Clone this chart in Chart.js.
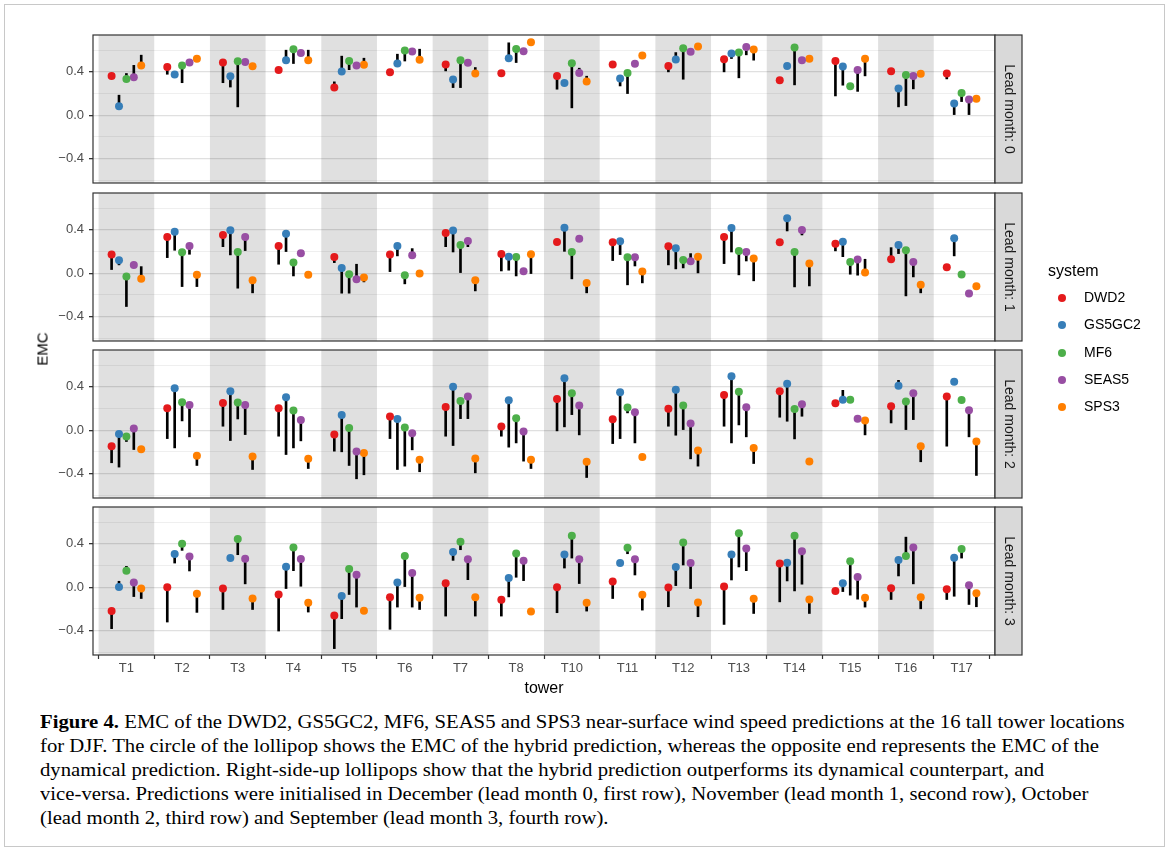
<!DOCTYPE html>
<html>
<head>
<meta charset="utf-8">
<script src="https://cdn.jsdelivr.net/npm/chart.js@4.4.1/dist/chart.umd.min.js"></script>
<style>
  body { margin: 0; background: #fff; }
  #fig { position: relative; width: 1171px; height: 852px; overflow: hidden; font-family: 'Liberation Sans', Arial, sans-serif; }
  #frame { position: absolute; left: 4px; top: 4px; width: 1161px; height: 843px; border: 1px solid #c8c8c8; box-sizing: border-box; }
  #fig canvas { position: absolute; left: 0; }
  #ytitle { position: absolute; left: 42px; top: 349px; transform: translate(-50%, -50%) rotate(-90deg); font-size: 15px; color: #000; }
  #legend { position: absolute; left: 1048px; top: 262px; }
  #legend .title { font-size: 16px; color: #000; margin-bottom: 8px; }
  #legend .item { position: relative; height: 27.3px; font-size: 14px; color: #000; }
  #legend .dot { position: absolute; left: 10px; top: 6px; width: 8px; height: 8px; border-radius: 50%; }
  #legend .lab { position: absolute; left: 36px; top: 1px; }
  #caption { position: absolute; left: 40px; top: 710px; font-family: 'Liberation Serif', 'DejaVu Serif', serif; font-size: 18.5px; line-height: 24px; color: #000; white-space: nowrap; transform: scaleX(1.12); transform-origin: 0 0; }
</style>
</head>
<body>
<div id="fig">
  <div id="frame"></div>
  <canvas id="lead0" width="1171" height="160" style="top:30px"></canvas>
  <canvas id="lead1" width="1171" height="160" style="top:188px"></canvas>
  <canvas id="lead2" width="1171" height="160" style="top:345px"></canvas>
  <canvas id="lead3" width="1171" height="200" style="top:502px"></canvas>
  <div id="ytitle">EMC</div>
  <div id="legend"></div>
  <div id="caption">
    <b>Figure 4.</b> EMC of the DWD2, GS5GC2, MF6, SEAS5 and SPS3 near-surface wind speed predictions at the 16 tall tower locations<br>
    for DJF. The circle of the lollipop shows the EMC of the hybrid prediction, whereas the opposite end represents the EMC of the<br>
    dynamical prediction. Right-side-up lollipops show that the hybrid prediction outperforms its dynamical counterpart, and<br>
    vice-versa. Predictions were initialised in December (lead month 0, first row), November (lead month 1, second row), October<br>
    (lead month 2, third row) and September (lead month 3, fourth row).
  </div>
</div>
<script>
// towers and systems
const towers = ['T1', 'T2', 'T3', 'T4', 'T5', 'T6', 'T7', 'T8', 'T10', 'T11', 'T12', 'T13', 'T14', 'T15', 'T16', 'T17'];
const systems = ['DWD2', 'GS5GC2', 'MF6', 'SEAS5', 'SPS3'];
const colors = ['#E41A1C', '#377EB8', '#4DAF4A', '#984EA3', '#FF7F00'];

const yBreaks = [-0.6, -0.4, -0.2, 0, 0.2, 0.4, 0.6];
const yMajor = [-0.4, 0, 0.4];
const yLabels = ['\u22120.4', '0.0', '0.4'];

// rows = systems (same order as above), columns = towers
// hybrid = circle end, dynamical = other end of the stick
const hybrid0 = [
  [0.363, 0.446, 0.486, 0.418, 0.255, 0.397, 0.468, 0.388, 0.363, 0.468, 0.455, 0.517, 0.323, 0.50, 0.406, 0.385],
  [0.083, 0.375, 0.36, 0.508, 0.403, 0.477, 0.329, 0.526, 0.298, 0.338, 0.514, 0.569, 0.455, 0.449, 0.246, 0.108],
  [0.335, 0.458, 0.498, 0.609, 0.50, 0.597, 0.508, 0.612, 0.48, 0.39, 0.618, 0.578, 0.625, 0.268, 0.372, 0.206],
  [0.35, 0.486, 0.492, 0.575, 0.458, 0.588, 0.483, 0.591, 0.39, 0.474, 0.585, 0.63, 0.508, 0.418, 0.363, 0.145],
  [0.458, 0.52, 0.452, 0.508, 0.465, 0.511, 0.385, 0.674, 0.31, 0.55, 0.634, 0.606, 0.52, 0.52, 0.382, 0.151]
];
const dynamical0 = [
  [0.36, 0.378, 0.30, 0.415, 0.308, 0.395, 0.409, 0.385, 0.24, 0.465, 0.40, 0.40, 0.32, 0.178, 0.40, 0.335],
  [0.185, 0.37, 0.26, 0.60, 0.545, 0.563, 0.255, 0.668, 0.295, 0.27, 0.578, 0.523, 0.45, 0.277, 0.077, 0.006],
  [0.385, 0.30, 0.077, 0.477, 0.42, 0.50, 0.255, 0.486, 0.068, 0.2, 0.332, 0.345, 0.28, 0.265, 0.089, 0.126],
  [0.46, 0.49, 0.49, 0.57, 0.455, 0.585, 0.48, 0.59, 0.434, 0.47, 0.58, 0.557, 0.505, 0.22, 0.243, 0.006],
  [0.554, 0.515, 0.45, 0.60, 0.526, 0.609, 0.44, 0.67, 0.36, 0.545, 0.63, 0.508, 0.515, 0.363, 0.38, 0.148]
];

const hybrid1 = [
  [0.172, 0.334, 0.353, 0.252, 0.15, 0.172, 0.371, 0.178, 0.288, 0.285, 0.248, 0.334, 0.285, 0.273, 0.129, 0.055],
  [0.12, 0.383, 0.396, 0.365, 0.049, 0.252, 0.393, 0.153, 0.42, 0.294, 0.23, 0.417, 0.506, 0.291, 0.261, 0.322],
  [-0.031, 0.193, 0.196, 0.098, -0.009, -0.018, 0.261, 0.15, 0.196, 0.147, 0.123, 0.206, 0.196, 0.104, 0.212, -0.012],
  [0.077, 0.252, 0.334, 0.184, -0.055, 0.166, 0.298, 0.018, 0.319, 0.147, 0.11, 0.196, 0.399, 0.126, 0.104, -0.187],
  [-0.052, -0.015, -0.064, -0.015, -0.04, -0.003, -0.064, 0.175, -0.089, 0.015, 0.153, 0.135, 0.089, 0.006, -0.107, -0.12]
];
const dynamical1 = [
  [0.034, 0.144, 0.245, 0.083, 0.098, 0.015, 0.245, 0.021, 0.285, 0.117, 0.077, 0.089, 0.282, 0.206, 0.236, 0.052],
  [0.077, 0.212, 0.169, 0.2, -0.184, 0.16, 0.196, 0.028, 0.202, 0.172, 0.04, 0.196, 0.39, 0.153, 0.181, 0.16],
  [-0.307, -0.123, -0.138, -0.025, -0.184, -0.098, 0.006, -0.025, -0.052, -0.107, 0.049, -0.015, -0.126, -0.009, -0.209, -0.015],
  [0.075, 0.175, 0.209, 0.18, 0.083, 0.227, 0.245, 0.015, 0.315, 0.067, 0.181, 0.113, 0.353, -0.018, -0.034, -0.19],
  [0.061, -0.123, -0.181, -0.018, -0.08, -0.005, -0.163, -0.003, -0.181, -0.089, 0.003, -0.07, -0.117, 0.129, -0.181, -0.123]
];

const hybrid2 = [
  [-0.147, 0.202, 0.252, 0.202, -0.04, 0.126, 0.215, 0.034, 0.288, 0.101, 0.199, 0.325, 0.359, 0.248, 0.221, 0.31],
  [-0.034, 0.387, 0.359, 0.304, 0.141, 0.104, 0.402, 0.276, 0.479, 0.35, 0.374, 0.497, 0.429, 0.282, 0.411, 0.448],
  [-0.058, 0.258, 0.255, 0.181, 0.021, 0.025, 0.27, 0.11, 0.34, 0.209, 0.227, 0.356, 0.196, 0.282, 0.264, 0.279],
  [0.015, 0.233, 0.233, 0.095, -0.196, -0.028, 0.31, -0.012, 0.227, 0.166, 0.061, 0.212, 0.239, 0.107, 0.34, 0.184],
  [-0.175, -0.236, -0.242, -0.264, -0.209, -0.273, -0.261, -0.273, -0.291, -0.248, -0.187, -0.163, -0.288, 0.089, -0.147, -0.104]
];
const dynamical2 = [
  [-0.30, -0.077, 0.037, -0.055, -0.193, -0.077, -0.055, -0.055, -0.006, -0.123, 0.037, 0.037, 0.12, 0.245, 0.067, -0.147],
  [-0.34, -0.163, -0.095, -0.224, -0.199, -0.362, -0.141, -0.156, 0.031, -0.077, -0.046, -0.117, 0.083, 0.368, 0.46, 0.445],
  [-0.104, 0.086, 0.104, -0.163, -0.325, -0.331, 0.107, -0.117, 0.144, 0.16, 0.0, 0.049, -0.08, 0.279, 0.0, 0.276],
  [-0.178, -0.061, -0.04, -0.098, -0.448, -0.181, 0.107, -0.285, -0.043, -0.117, -0.264, -0.061, 0.129, 0.104, 0.098, -0.061],
  [-0.178, -0.325, -0.362, -0.353, -0.411, -0.383, -0.393, -0.353, -0.436, -0.251, -0.331, -0.307, -0.291, -0.043, -0.291, -0.417]
];

const hybrid3 = [
  [-0.22, 0.0, -0.012, -0.067, -0.26, -0.092, 0.037, -0.116, 0.0, 0.052, -0.003, 0.006, 0.22, -0.034, -0.009, -0.018],
  [0.003, 0.306, 0.269, 0.19, -0.08, 0.043, 0.324, 0.086, 0.303, 0.223, 0.187, 0.303, 0.226, 0.037, 0.251, 0.272],
  [0.153, 0.40, 0.446, 0.367, 0.168, 0.287, 0.419, 0.312, 0.474, 0.364, 0.413, 0.498, 0.474, 0.239, 0.287, 0.352],
  [0.043, 0.284, 0.263, 0.26, 0.116, 0.131, 0.257, 0.245, 0.257, 0.257, 0.223, 0.358, 0.333, 0.095, 0.367, 0.018],
  [-0.012, -0.061, -0.104, -0.144, -0.217, -0.098, -0.092, -0.223, -0.144, -0.07, -0.141, -0.107, -0.113, -0.098, -0.092, -0.055]
];
const dynamical3 = [
  [-0.382, -0.321, -0.205, -0.404, -0.566, -0.388, -0.266, -0.266, -0.235, -0.104, -0.18, -0.343, -0.135, -0.037, -0.113, -0.113],
  [0.055, 0.223, 0.266, -0.012, -0.29, -0.183, 0.248, -0.089, 0.177, 0.22, 0.015, 0.067, 0.058, -0.04, 0.104, -0.083],
  [0.193, 0.34, 0.30, 0.153, -0.067, 0.0, 0.346, 0.092, 0.269, 0.309, 0.205, 0.187, -0.034, -0.073, 0.462, 0.269],
  [-0.086, 0.15, 0.031, 0.009, -0.183, -0.183, 0.07, 0.061, 0.034, 0.113, -0.012, 0.153, 0.028, -0.11, 0.031, -0.159],
  [-0.104, -0.232, -0.205, -0.229, -0.22, -0.205, -0.266, -0.226, -0.22, -0.211, -0.272, -0.242, -0.242, -0.183, -0.199, -0.18]
];

const DODGE = 0.133; // horizontal spacing between systems inside a tower

const isMajor = v => yMajor.some(m => Math.abs(m - v) < 1e-6);

// gray bands, panel border and the strip on the right
const panelDecor = {
  id: 'panelDecor',
  beforeDatasetsDraw(chart) {
    const { ctx, chartArea: a, scales: { x } } = chart;
    ctx.save();
    ctx.fillStyle = 'rgba(0,0,0,0.12)';
    towers.forEach((t, i) => {
      if (i % 2) return;
      const l = x.getPixelForValue(i - 0.5);
      const r = x.getPixelForValue(i + 0.5);
      ctx.fillRect(l, a.top, r - l, a.bottom - a.top);
    });
    ctx.restore();
  },
  afterDraw(chart, args, opts) {
    const { ctx, chartArea: a } = chart;
    ctx.save();
    ctx.strokeStyle = '#333';
    ctx.lineWidth = 1.2;
    ctx.strokeRect(a.left, a.top, a.right - a.left, a.bottom - a.top);
    // strip
    ctx.fillStyle = '#d9d9d9';
    ctx.fillRect(a.right, a.top, 27, a.bottom - a.top);
    ctx.strokeRect(a.right, a.top, 27, a.bottom - a.top);
    ctx.translate(a.right + 13.5, (a.top + a.bottom) / 2);
    ctx.rotate(Math.PI / 2);
    ctx.fillStyle = '#1a1a1a';
    ctx.font = "14px 'Liberation Sans', Arial, sans-serif";
    ctx.textAlign = 'center';
    ctx.textBaseline = 'middle';
    ctx.fillText(opts.label, 0, 0);
    ctx.restore();
  }
};

function makePanel(canvasId, hyb, dyn, label, isBottom) {
  const sticks = [];
  systems.forEach((s, si) => {
    towers.forEach((t, ti) => {
      sticks.push({ x: ti + (si - 2) * DODGE, y: [dyn[si][ti], hyb[si][ti]] });
    });
  });

  const datasets = [{
    type: 'bar',
    label: 'dynamical',
    data: sticks,
    backgroundColor: '#000',
    barThickness: 2,
    order: 2
  }];
  systems.forEach((s, si) => {
    datasets.push({
      type: 'scatter',
      label: s,
      data: towers.map((t, ti) => ({ x: ti + (si - 2) * DODGE, y: hyb[si][ti] })),
      backgroundColor: colors[si],
      borderWidth: 0,
      pointRadius: 4,
      pointHoverRadius: 4,
      order: 1
    });
  });

  const xScale = {
    type: 'linear',
    min: -0.6,
    max: 15.6,
    offset: false,
    display: isBottom,
    border: { display: false },
    afterBuildTicks: (scale) => { scale.ticks = towers.map((t, i) => ({ value: i })); },
    grid: { drawOnChartArea: false, drawTicks: true, tickLength: 4, color: 'rgba(0,0,0,0)', tickColor: '#333', tickWidth: 1.2 },
    ticks: {
      autoSkip: false,
      maxRotation: 0,
      padding: 2,
      color: '#4d4d4d',
      font: { size: 13, family: "'Liberation Sans', Arial, sans-serif" },
      callback: (v) => towers[Math.round(v)]
    },
    title: {
      display: true,
      text: 'tower',
      color: '#000',
      padding: { top: 0, bottom: 0 },
      font: { size: 16, family: "'Liberation Sans', Arial, sans-serif" }
    },
    afterFit: (scale) => {
      scale.paddingLeft = 0;
      scale.paddingRight = 0;
      if (isBottom) scale.height = 43;
    }
  };

  return new Chart(document.getElementById(canvasId), {
    type: 'bar',
    data: { datasets },
    options: {
      responsive: false,
      animation: false,
      layout: { padding: { left: 0, right: 176, top: 5, bottom: isBottom ? 4 : 7 } },
      plugins: {
        legend: { display: false },
        tooltip: { enabled: false },
        panelDecor: { label }
      },
      scales: {
        x: xScale,
        y: {
          type: 'linear',
          min: -0.625,
          max: 0.74,
          border: { display: false },
          afterFit: (scale) => {
            scale.width = 93;
            scale.paddingTop = 0;
            scale.paddingBottom = 0;
          },
          afterBuildTicks: (scale) => { scale.ticks = yBreaks.map(v => ({ value: v })); },
          grid: {
            color: (c) => isMajor(c.tick.value) ? '#e0e0e0' : '#ebebeb',
            lineWidth: (c) => isMajor(c.tick.value) ? 1.3 : 0.8,
            tickColor: (c) => isMajor(c.tick.value) ? '#333' : 'rgba(0,0,0,0)',
            tickLength: 4,
            drawTicks: true
          },
          ticks: {
            autoSkip: false,
            padding: 5,
            color: '#4d4d4d',
            font: { size: 13, family: "'Liberation Sans', Arial, sans-serif" },
            callback: (v) => {
              const k = yMajor.findIndex(m => Math.abs(m - v) < 1e-6);
              return k >= 0 ? yLabels[k] : '';
            }
          }
        }
      }
    },
    plugins: [panelDecor]
  });
}

makePanel('lead0', hybrid0, dynamical0, 'Lead month: 0', false);
makePanel('lead1', hybrid1, dynamical1, 'Lead month: 1', false);
makePanel('lead2', hybrid2, dynamical2, 'Lead month: 2', false);
makePanel('lead3', hybrid3, dynamical3, 'Lead month: 3', true);

// legend
const legend = document.getElementById('legend');
legend.innerHTML = '<div class="title">system</div>' + systems.map((s, i) =>
  `<div class="item"><span class="dot" style="background:${colors[i]}"></span><span class="lab">${s}</span></div>`
).join('');
</script>
</body>
</html>
